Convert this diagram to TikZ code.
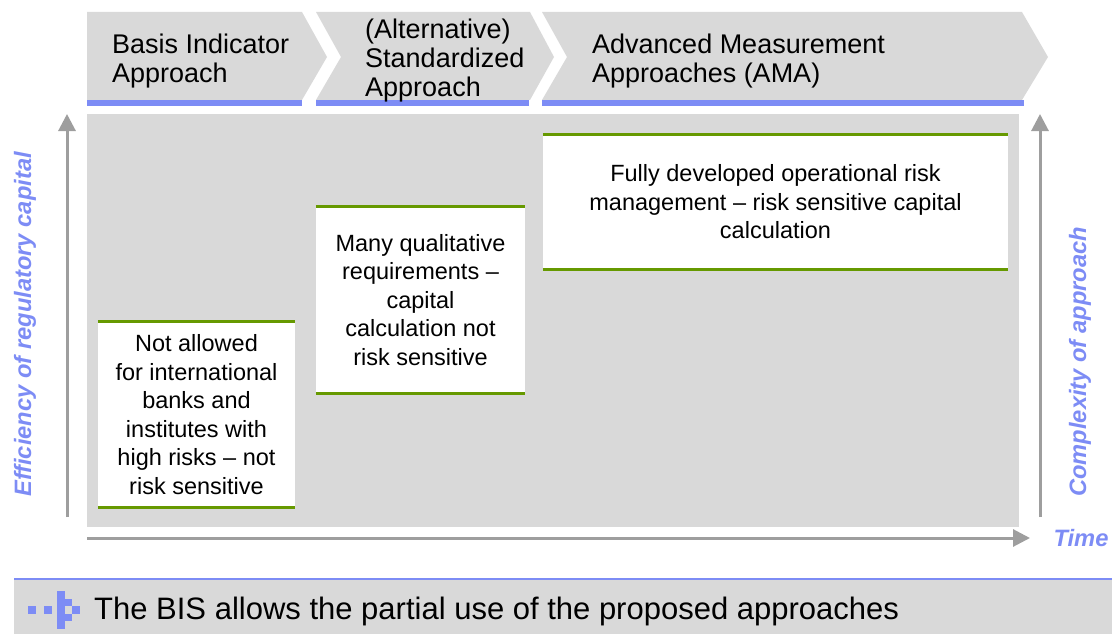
\documentclass[tikz,border=0pt]{standalone}
\usepackage{fontspec}
\setmainfont{Liberation Sans}
\usetikzlibrary{arrows.meta}
\definecolor{bisblue}{RGB}{125,140,245}
\definecolor{bisgreen}{RGB}{102,153,0}
\definecolor{bisgray}{RGB}{217,217,217}
\definecolor{axisgray}{RGB}{158,158,158}

\begin{document}
\begin{tikzpicture}[x=1pt,y=-1pt,
	chevron/.style={fill=bisgray},
	bar/.style={bisblue,line width=6pt},
	head/.style={anchor=north west,align=left,inner sep=0pt,font=\fontsize{27}{29}\selectfont},
	box/.style={fill=white,inner sep=0pt,align=center,font=\fontsize{23.5}{28.5}\selectfont},
	rim/.style={bisgreen,line width=3pt},
	axis/.style={axisgray,line width=3pt,-{Triangle[width=17pt,length=17pt]}},
	axislabel/.style={bisblue,inner sep=0pt,font=\fontsize{23.7}{28}\selectfont\bfseries\itshape}]
	\useasboundingbox (0,0) rectangle (1112,634);

	% the three approaches
	\fill[chevron] (87,12) -- (302,12) -- (327,57) -- (302,100) -- (87,100) -- cycle;
	\fill[chevron] (316,12) -- (530,12) -- (554,57) -- (530,100) -- (316,100) -- (341,57) -- cycle;
	\fill[chevron] (542,12) -- (1022,12) -- (1048,57) -- (1022,100) -- (542,100) -- (567,57) -- cycle;
	\draw[bar] (87,103) -- (302,103);
	\draw[bar] (316,103) -- (529,103);
	\draw[bar] (542,103) -- (1024,103);
	\node[head] (bia) at (112,34) {Basis Indicator\\Approach};
	\node[head] (asa) at (365,19) {(Alternative)\\Standardized\\Approach};
	\node[head] (ama) at (592,34) {Advanced Measurement\\Approaches (AMA)};

	\fill[bisgray] (87,114) rectangle (1019,527);

	\node[box,minimum width=197pt,minimum height=185pt] (biabox) at (196.5,414.5)
		{Not allowed\\for international\\banks and\\institutes with\\high risks -- not\\risk sensitive};
	\node[box,minimum width=209pt,minimum height=186pt] (asabox) at (420.5,300)
		{Many qualitative\\requirements --\\capital\\calculation not\\risk sensitive};
	\node[box,minimum width=465pt,minimum height=134pt] (amabox) at (775.5,202)
		{Fully developed operational risk\\management -- risk sensitive capital\\calculation};
	\foreach \b in {biabox,asabox,amabox} {
		\draw[rim] (\b.north west) -- (\b.north east);
		\draw[rim] (\b.south west) -- (\b.south east);
	}

	% axes
	\coordinate (effbot) at (67,517);
	\coordinate (efftop) at (67,114);
	\coordinate (cpxbot) at (1040,517);
	\coordinate (cpxtop) at (1040,114);
	\coordinate (timel) at (87,538);
	\coordinate (timer) at (1030,538);
	\draw[axis] (effbot) -- (efftop);
	\draw[axis] (cpxbot) -- (cpxtop);
	\draw[axis] (timel) -- (timer);
	\node[axislabel,rotate=90,anchor=west] (eff) at (25,497) {Efficiency of regulatory capital};
	\node[axislabel,rotate=90,anchor=west] (cpx) at (1080,497) {Complexity of approach};
	\node[axislabel] (time) at (1081,538) {Time};

	% note bar
	\fill[bisgray] (14,580) rectangle (1112,634);
	\draw[bisblue,line width=1.5pt] (14,579) -- (1112,579);
	\foreach \x in {28,44}
		\fill[bisblue] (\x,606) rectangle +(7.5,7.5);
	\foreach \c/\r in {0/0,0/1,1/1,0/2,2/2,0/3,1/3,0/4}
		\fill[bisblue] (57+7.5*\c,591+7.5*\r) rectangle +(7.5,7.5);
	\node[anchor=base west,inner sep=0pt,font=\fontsize{31}{36}\selectfont] (note) at (94,619)
		{The BIS allows the partial use of the proposed approaches};
\end{tikzpicture}
\end{document}
